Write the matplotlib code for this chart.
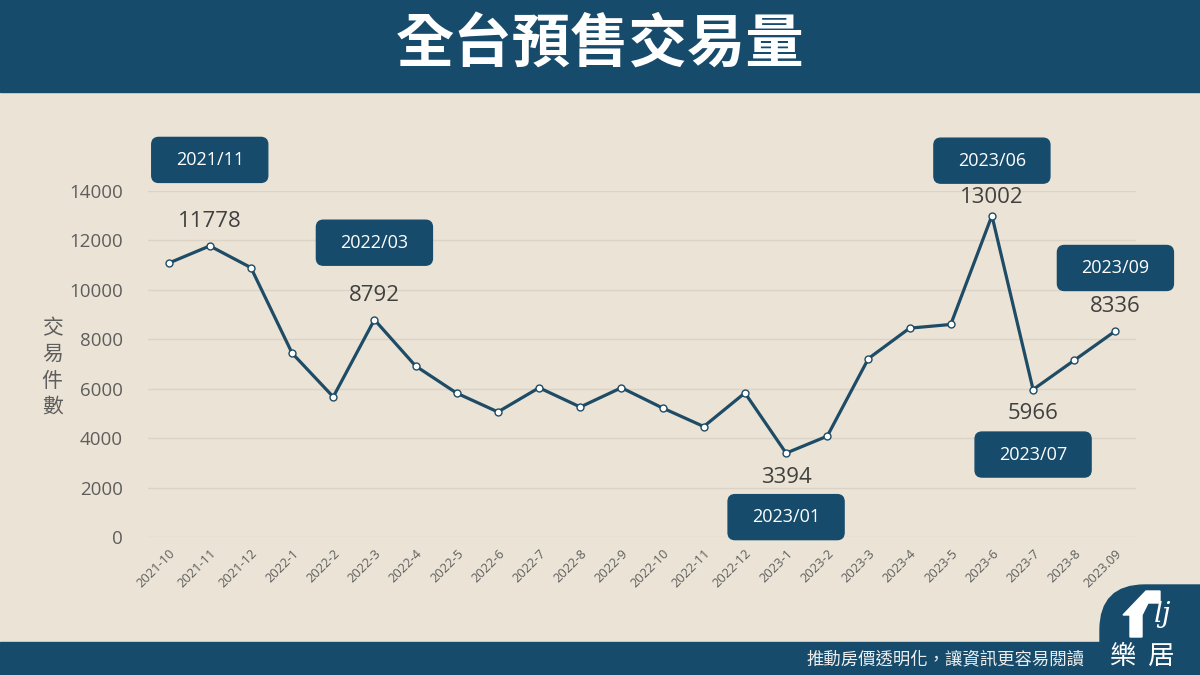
import matplotlib
matplotlib.use("Agg")
import matplotlib.pyplot as plt
from matplotlib.patches import Rectangle, FancyBboxPatch, Polygon
from matplotlib.transforms import IdentityTransform

# ---------------- data ----------------
months = ["2021-10", "2021-11", "2021-12", "2022-1", "2022-2", "2022-3", "2022-4",
          "2022-5", "2022-6", "2022-7", "2022-8", "2022-9", "2022-10", "2022-11",
          "2022-12", "2023-1", "2023-2", "2023-3", "2023-4", "2023-5", "2023-6",
          "2023-7", "2023-8", "2023.09"]
volumes = [11080, 11778, 10900, 7440, 5670, 8792, 6920, 5820, 5060, 6040, 5260, 6040,
           5220, 4470, 5830, 3394, 4080, 7220, 8450, 8600, 13002, 5966, 7150, 8336]
yticks = [0, 2000, 4000, 6000, 8000, 10000, 12000, 14000]

# callouts: index, box label, above(+1)/below(-1)
callout_idx = [1, 5, 20, 23, 21, 15]
callout_text = ["2021/11", "2022/03", "2023/06", "2023/09", "2023/07", "2023/01"]
callout_side = [1, 1, 1, 1, -1, -1]

title = "全台預售交易量"
ylabel = "交易件數"
footer = "推動房價透明化，讓資訊更容易閱讀"
logo_text = "樂  居"

# ---------------- style ----------------
BG = "#EBE4D6"
NAVY = "#164B6B"
LINE = "#1E4B66"
GRID = "#DAD3C6"
TICK = "#5E5E5E"
LABEL = "#404040"
W, H = 1200, 675

plt.rcParams["font.family"] = ["Open Sans", "Noto Sans CJK TC", "DejaVu Sans"]
cjk = ["Noto Sans CJK TC", "DejaVu Sans"]

fig = plt.figure(figsize=(12, 6.75), dpi=100, facecolor=BG)

# header banner and footer
fig.patches.append(Rectangle((0, 1 - 92 / H), 1, 92 / H, transform=fig.transFigure,
                             color=NAVY, zorder=0))
fig.patches.append(Rectangle((0, 0), 1, 33 / H, transform=fig.transFigure,
                             color=NAVY, zorder=0))
# logo tab
fig.patches.append(FancyBboxPatch((1100, -60), 200, 150,
                                  boxstyle="round,pad=0,rounding_size=45",
                                  transform=IdentityTransform(), color=NAVY, zorder=0))
# house icon
house = [(1130, 38), (1130, 60), (1123, 60), (1146, 84), (1160, 84), (1160, 72),
         (1148, 72), (1142, 60), (1142, 38)]
fig.patches.append(Polygon(house, closed=True, transform=IdentityTransform(),
                           color="white", zorder=1))
fig.text(1163 / W, 60 / H, "lj", color="white", fontsize=20, style="italic",
         family=["DejaVu Serif"], ha="center", va="center")

fig.text(0.5, 1 - 45 / H, title, color="white", fontsize=42, fontweight="bold",
         family=cjk, ha="center", va="center")
fig.text(945 / W, 16 / H, footer, color="#EDEDED", fontsize=12.5, family=cjk,
         ha="center", va="center")
fig.text(1142 / W, 19 / H, logo_text, color="white", fontsize=19, family=cjk,
         ha="center", va="center")

# axes
left, right = 148 / W, 1136 / W
bottom, top = (H - 537) / H, (H - 191) / H
ax = fig.add_axes([left, bottom, right - left, top - bottom])
ax.set_facecolor("none")
x = list(range(len(months)))
ax.plot(x, volumes, color=LINE, lw=2.3, marker="o", ms=5, mfc="white", mec=LINE,
        mew=1.0, zorder=3, clip_on=False)
ax.set_xlim(-0.5, len(months) - 0.5)
ax.set_ylim(0, 14000)
ax.set_yticks(yticks)
ax.set_yticklabels([str(v) for v in yticks], fontsize=13.5, color=TICK)
ax.set_xticks(x)
ax.set_xticklabels(months, rotation=45, ha="right", rotation_mode="anchor",
                   fontsize=9.3, color=TICK)
ax.tick_params(axis="both", length=0)
ax.tick_params(axis="y", pad=18)
ax.tick_params(axis="x", pad=7)
ax.grid(axis="y", color=GRID, lw=1)
ax.set_axisbelow(True)
for s in ax.spines.values():
    s.set_visible(False)

ax.text(-0.097, 0.49, "\n".join(ylabel), transform=ax.transAxes, fontsize=15,
        color=TICK, family=cjk, ha="center", va="center", linespacing=1.25)

# value labels and callout boxes
box_w, box_h = 116, 45
for i, txt, side in zip(callout_idx, callout_text, callout_side):
    v = volumes[i]
    ax.annotate(f"{v}", xy=(i, v), xytext=(0, 24 * side if i != 20 else 18),
                textcoords="offset pixels", ha="center", va="center",
                fontsize=16, color=LABEL)
    px, py = ax.transData.transform((i, v))
    off = {1: 86, 5: 77, 20: 55, 23: 63, 21: -65, 15: -64}[i]
    cx, cy = px, py + off
    fig.patches.append(FancyBboxPatch((cx - box_w / 2, cy - box_h / 2), box_w, box_h,
                                      boxstyle="round,pad=0,rounding_size=7",
                                      transform=IdentityTransform(), color=NAVY,
                                      zorder=5))
    fig.text(cx / W, cy / H, txt, color="white", fontsize=13, ha="center",
             va="center", zorder=6)

fig.savefig("out.png", dpi=100, facecolor=BG)
